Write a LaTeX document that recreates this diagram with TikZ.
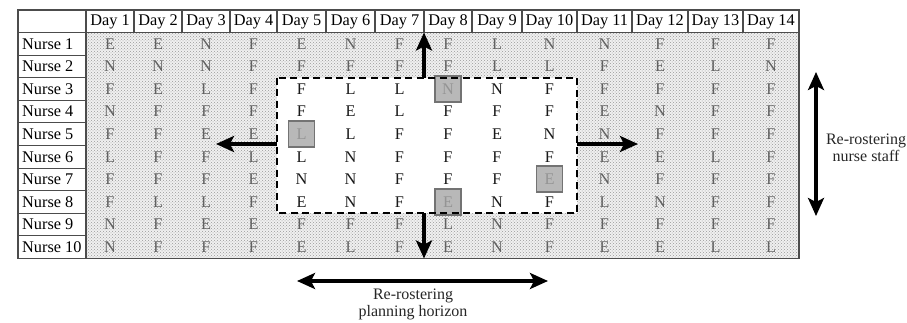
\documentclass[tikz,border=0pt]{standalone}
\usepackage{fontspec}
\setmainfont{Liberation Serif}
\usetikzlibrary{patterns,arrows.meta}

% horizontal centre of the Day n column
\newcommand\daycx[1]{\ifcase#1\or110\or158\or206\or253.5\or301.5\or350.5\or399.5\or448\or497\or549.5\or604.5\or660\or715.5\or771\fi}
\def\rowtop{32.5}
\def\rowh{22.6}

\begin{document}
\begin{tikzpicture}[x=1pt,y=-1pt,
  every node/.style={font=\fontsize{16.3}{18}\selectfont, inner sep=0pt},
  rule/.style={draw=black!70, line width=1.1pt},
  movearrow/.style={line width=3.2pt, -{Stealth[length=18pt,width=16pt,inset=4pt]}},
  spanarrow/.style={line width=3.2pt, {Stealth[length=18pt,width=16pt,inset=4pt]}-{Stealth[length=18pt,width=16pt,inset=4pt]}},
  outer/.style={text=black!62},
  inner/.style={text=black!90},
  hl/.style={draw=black!55, line width=1.8pt, fill=black!28, text=black!42,
    minimum width=26pt, minimum height=26pt},
  caption/.style={font=\fontsize{16}{17}\selectfont, align=center, text=black!85}]
\useasboundingbox (0,0) rectangle (907,323);

% dotted shading of the roster, cleared inside the re-rostering window
\fill[black!6] (86,32.5) rectangle (799,258.5);
\fill[pattern=crosshatch dots, pattern color=black!40] (86,32.5) rectangle (799,258.5);
\fill[white] (277,77.7) rectangle (577,213.3);

% table rules
\draw[rule] (18,10) rectangle (799,258.5);
\draw[rule] (18,32.5) -- (799,32.5);
\foreach \xx in {86,134,182,230,277,326,375,424,472,522,577,632,688,743}{
  \draw[rule] (\xx,10) -- (\xx,32.5);
}
\draw[rule] (86,32.5) -- (86,258.5);
\foreach \r in {1,...,9}{
  \pgfmathsetmacro\yy{\rowtop+\r*\rowh}
  \draw[rule] (18,\yy) -- (86,\yy);
}

% header
\foreach \d in {1,...,14}{
  \node (day\d) at (\daycx{\d},21.5) {Day \d};
}

% nurses and their shifts
\foreach \r/\row in {
  1/{E,E,N,F,E,N,F,F,L,N,N,F,F,F},
  2/{N,N,N,F,F,F,F,F,L,L,F,E,L,N},
  3/{F,E,L,F,F,L,L,N,N,F,F,F,F,F},
  4/{N,F,F,F,F,E,L,F,F,F,E,N,F,F},
  5/{F,F,E,E,L,L,F,F,E,N,N,F,F,F},
  6/{L,F,F,L,L,N,F,F,F,F,E,E,L,F},
  7/{F,F,F,E,N,N,F,F,F,E,N,F,F,F},
  8/{F,L,L,F,E,N,F,E,N,F,L,N,F,F},
  9/{N,F,E,E,F,F,F,L,N,F,F,F,F,F},
  10/{N,F,F,F,E,L,F,E,N,F,E,E,L,L}}{
  \pgfmathsetmacro\cy{\rowtop+(\r-0.5)*\rowh}
  \node[anchor=west] (nurse\r) at (22,\cy) {Nurse \r};
  \foreach \s [count=\d] in \row {
    \pgfmathtruncatemacro\win{(\r>2)&&(\r<9)&&(\d>4)&&(\d<11)}
    \pgfmathtruncatemacro\mark{(\r==3&&\d==8)||(\r==5&&\d==5)||(\r==7&&\d==10)||(\r==8&&\d==8)}
    \ifnum\mark=1
      \node[hl] (cell-\r-\d) at (\daycx{\d},\cy) {\s};
    \else
      \ifnum\win=1
        \node[inner] (cell-\r-\d) at (\daycx{\d},\cy) {\s};
      \else
        \node[outer] (cell-\r-\d) at (\daycx{\d},\cy) {\s};
      \fi
    \fi
  }
}

% re-rostering window
\draw[line width=2.2pt, dash pattern=on 7pt off 4.5pt] (277,77.7) rectangle (577,213.3);

% arrow ends
\coordinate (upS) at (424,77.7);   \coordinate (upE) at (424,32.5);
\coordinate (dnS) at (424,213.3);  \coordinate (dnE) at (424,258.5);
\coordinate (lfS) at (277,144);    \coordinate (lfE) at (216,144);
\coordinate (rtS) at (577,144);    \coordinate (rtE) at (638,144);
\coordinate (vsA) at (816,72);     \coordinate (vsB) at (816,216);
\coordinate (hsA) at (297,281);    \coordinate (hsB) at (548,281);

\draw[movearrow] (upS) -- (upE);
\draw[movearrow] (dnS) -- (dnE);
\draw[movearrow] (lfS) -- (lfE);
\draw[movearrow] (rtS) -- (rtE);
\draw[spanarrow] (vsA) -- (vsB);
\draw[spanarrow] (hsA) -- (hsB);

\node[caption] (staff) at (866,148) {Re-rostering\\nurse staff};
\node[caption] (horizon) at (413,304) {Re-rostering\\planning horizon};
\end{tikzpicture}
\end{document}
